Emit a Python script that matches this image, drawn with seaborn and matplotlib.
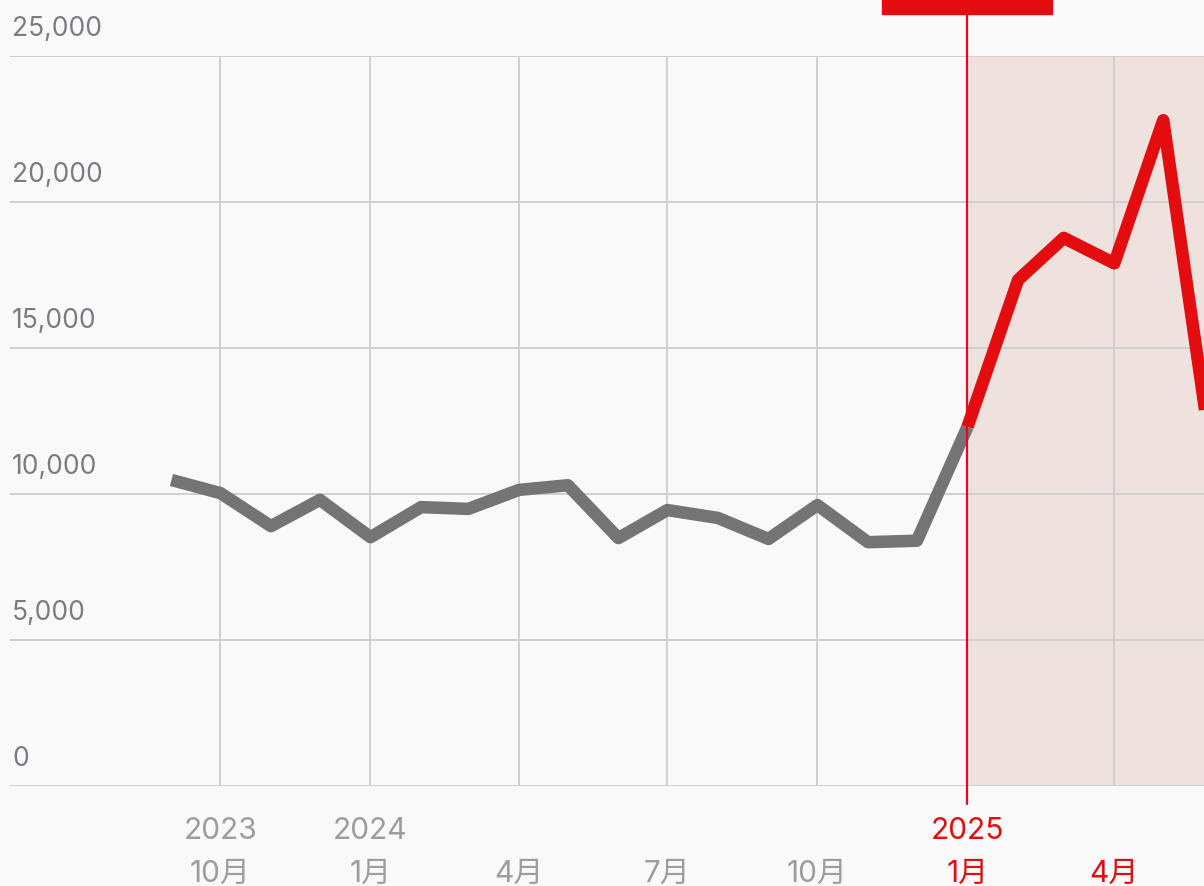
import pandas as pd
import matplotlib
matplotlib.use('Agg')
import matplotlib.pyplot as plt
from matplotlib.patches import Rectangle
import seaborn as sns

# monthly values (first of each month)
months = pd.date_range('2023-09-01', '2025-06-01', freq='MS')
values = [10480, 10030, 8900, 9800, 8520, 9550, 9490, 10140, 10300, 8490,
          9450, 9180, 8460, 9620, 8350, 8400, 12300, 17330, 18770, 17900,
          22800, 10800]
highlight_start = pd.Timestamp('2025-01-01')

tick_dates = pd.to_datetime(['2023-10-01', '2024-01-01', '2024-04-01', '2024-07-01',
                             '2024-10-01', '2025-01-01', '2025-04-01'])
tick_years = ['2023', '2024', '', '', '', '2025', '']
tick_months = ['10月', '1月', '4月', '7月', '10月', '1月', '4月']
y_ticks = [0, 5000, 10000, 15000, 20000, 25000]

df = pd.DataFrame({'month': months, 'value': values})
past = df[df['month'] <= highlight_start]
recent = df[df['month'] >= highlight_start]

RED = '#e30c0e'
GREY = '#747474'
BG = '#f9f9f9'

sns.set_theme(style='white')
plt.rcParams['font.family'] = ['Inter', 'Noto Sans CJK SC', 'DejaVu Sans']

fig = plt.figure(figsize=(12.04, 8.86), dpi=100, facecolor=BG)
ax = fig.add_axes([10 / 1204, 100 / 886, 1194 / 1204, 730 / 886])
ax.set_facecolor(BG)

# shaded period
ax.axvspan(highlight_start, pd.Timestamp('2025-06-30'), color='#efe2de', zorder=0.1, lw=0)

sns.lineplot(data=past, x='month', y='value', color=GREY, linewidth=9,
             ax=ax, solid_capstyle='butt', solid_joinstyle='round', zorder=3)
sns.lineplot(data=recent, x='month', y='value', color=RED, linewidth=9,
             ax=ax, solid_capstyle='butt', solid_joinstyle='round', zorder=4)

ax.axvline(highlight_start, ymin=-0.025, ymax=1.06, color=RED, lw=1.6,
           clip_on=False, zorder=5)

ax.set_xlim(pd.Timestamp('2023-05-25'), pd.Timestamp('2025-05-26'))
ax.set_ylim(0, 25000)
ax.set_axisbelow(True)

ax.set_xticks(tick_dates)
ax.set_xticklabels([f'{y}\n{m}' for y, m in zip(tick_years, tick_months)],
                   linespacing=1.65, fontsize=21.5)
ax.tick_params(axis='x', length=0, pad=22.5)
for lab, d in zip(ax.get_xticklabels(), tick_dates):
    lab.set_color(RED if d >= highlight_start else '#9d9d9d')

ax.set_yticks(y_ticks)
ax.set_yticklabels([])
ax.tick_params(axis='y', length=0)
for v in y_ticks:
    ax.annotate(f'{v:,}', xy=(0, v), xycoords=('axes fraction', 'data'),
                xytext=(2, 20), textcoords='offset pixels', ha='left',
                va='baseline', fontsize=19, color='#7b7b82')

ax.grid(True, color='#cfcfcf', lw=1.4)
ax.set_xlabel('')
ax.set_ylabel('')
for s in ax.spines.values():
    s.set_visible(False)

# tooltip box cut by the top edge
fig.patches.append(Rectangle((882 / 1204, 1 - 14 / 886), 170 / 1204, 20 / 886,
                             transform=fig.transFigure, color=RED, zorder=6))

fig.savefig('out.png', dpi=100, facecolor=BG)
